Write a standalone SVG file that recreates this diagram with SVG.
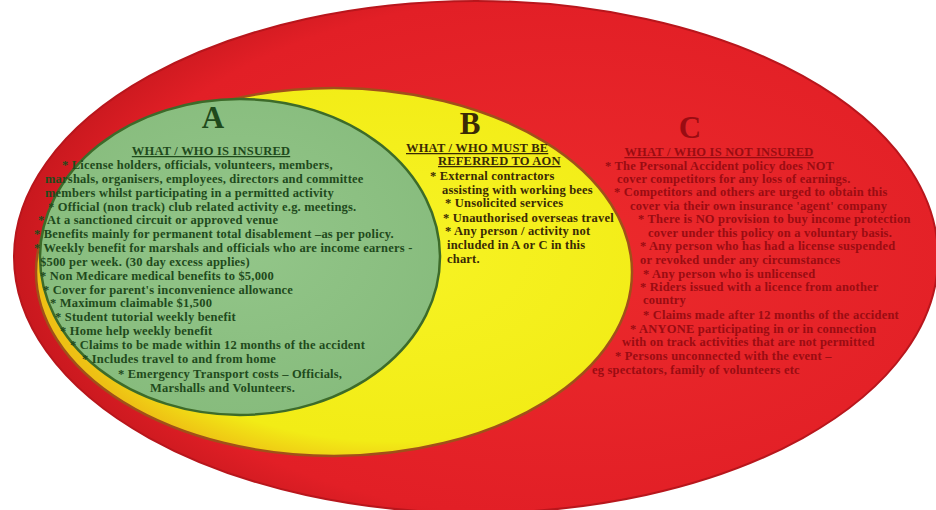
<svg xmlns="http://www.w3.org/2000/svg" width="936" height="510" viewBox="0 0 936 510">
<style>
.t{font-family:"Liberation Serif","Times New Roman",serif;font-weight:bold;font-size:12.5px;letter-spacing:0.2px}
.big{font-family:"Liberation Serif","Times New Roman",serif;font-weight:bold;font-size:31px;text-anchor:middle}
.hd{font-family:"Liberation Serif","Times New Roman",serif;font-weight:bold;font-size:12.5px;letter-spacing:0.2px;text-decoration:underline}
.a{fill:#1f4a1c}
.b{fill:#3a2a05}
.c{fill:#9a0c12}
</style>
<defs>
<radialGradient id="gr" cx="0.6" cy="0.5" r="0.6">
<stop offset="0" stop-color="#ec2a2c"/>
<stop offset="0.85" stop-color="#e21f26"/>
<stop offset="1" stop-color="#c8181e"/>
</radialGradient>
<radialGradient id="gy" cx="0.6" cy="0.45" r="0.6">
<stop offset="0" stop-color="#f7f324"/>
<stop offset="0.85" stop-color="#f2ec16"/>
<stop offset="1" stop-color="#eec014"/>
</radialGradient>
<radialGradient id="gg" cx="0.5" cy="0.45" r="0.6">
<stop offset="0" stop-color="#93c689"/>
<stop offset="1" stop-color="#86bb7c"/>
</radialGradient>
</defs>
<rect width="936" height="510" fill="#ffffff"/>
<g id="region-C">
<ellipse cx="476" cy="257" rx="462" ry="256" fill="url(#gr)" stroke="#b8161c" stroke-width="2"/>
</g>
<g id="region-B">
<ellipse cx="334" cy="272" rx="298" ry="184" fill="url(#gy)" stroke="#a0501a" stroke-width="2.5"/>
</g>
<g id="region-A">
<ellipse cx="240" cy="257" rx="200" ry="158" fill="url(#gg)" stroke="#3d6b2a" stroke-width="2.5"/>
<text class="big a" x="213" y="128">A</text>
<text class="hd a" x="211" y="155" text-anchor="middle">WHAT / WHO IS INSURED</text>
<text class="t a" x="62" y="169">* License holders, officials, volunteers, members,</text>
<text class="t a" x="45" y="183">marshals, organisers, employees, directors and committee</text>
<text class="t a" x="45" y="197">members whilst participating in a permitted activity</text>
<text class="t a" x="48" y="211">* Official (non track) club related activity e.g. meetings.</text>
<text class="t a" x="38" y="224">* At a sanctioned circuit or approved venue</text>
<text class="t a" x="34" y="238">* Benefits mainly for permanent total disablement –as per policy.</text>
<text class="t a" x="34" y="252">* Weekly benefit for marshals and officials who are income earners -</text>
<text class="t a" x="40" y="266">$500 per week. (30 day excess applies)</text>
<text class="t a" x="40" y="280">* Non Medicare medical benefits to $5,000</text>
<text class="t a" x="43" y="294">* Cover for parent's inconvenience allowance</text>
<text class="t a" x="50" y="307">* Maximum claimable $1,500</text>
<text class="t a" x="55" y="321">* Student tutorial weekly benefit</text>
<text class="t a" x="60" y="335">* Home help weekly benefit</text>
<text class="t a" x="70" y="349">* Claims to be made within 12 months of the accident</text>
<text class="t a" x="82" y="363">* Includes travel to and from home</text>
<text class="t a" x="118" y="378">* Emergency Transport costs – Officials,</text>
<text class="t a" x="150" y="392">Marshalls and Volunteers.</text>
</g>
<g id="region-B-text">
<text class="big b" x="470" y="134">B</text>
<text class="hd b" x="406" y="152">WHAT / WHO MUST BE</text>
<text class="hd b" x="438" y="165">REFERRED TO AON</text>
<text class="t b" x="430" y="180">* External contractors</text>
<text class="t b" x="442" y="194">assisting with working bees</text>
<text class="t b" x="445" y="207">* Unsolicited services</text>
<text class="t b" x="443" y="222">* Unauthorised overseas travel</text>
<text class="t b" x="445" y="235">* Any person / activity not</text>
<text class="t b" x="447" y="249">included in A or C in this</text>
<text class="t b" x="447" y="263">chart.</text>
</g>
<g id="region-C-text">
<text class="big c" x="690" y="138">C</text>
<text class="hd c" x="719" y="156" text-anchor="middle">WHAT / WHO IS NOT INSURED</text>
<text class="t c" x="605" y="170">* The Personal Accident policy does NOT</text>
<text class="t c" x="617" y="183">cover competitors for any loss of earnings.</text>
<text class="t c" x="614" y="196">* Competitors and others are urged to obtain this</text>
<text class="t c" x="630" y="210">cover via their own insurance 'agent' company</text>
<text class="t c" x="638" y="223">* There is NO provision to buy income protection</text>
<text class="t c" x="648" y="237">cover under this policy on a voluntary basis.</text>
<text class="t c" x="640" y="250">* Any person who has had a license suspended</text>
<text class="t c" x="640" y="264">or revoked under any circumstances</text>
<text class="t c" x="643" y="278">* Any person who is unlicensed</text>
<text class="t c" x="640" y="291">* Riders issued with a licence from another</text>
<text class="t c" x="643" y="304">country</text>
<text class="t c" x="643" y="319">* Claims made after 12 months of the accident</text>
<text class="t c" x="630" y="333">* ANYONE participating in or in connection</text>
<text class="t c" x="622" y="346">with on track activities that are not permitted</text>
<text class="t c" x="615" y="360">* Persons unconnected with the event –</text>
<text class="t c" x="592" y="374">eg spectators, family of volunteers etc</text>
</g>
</svg>
